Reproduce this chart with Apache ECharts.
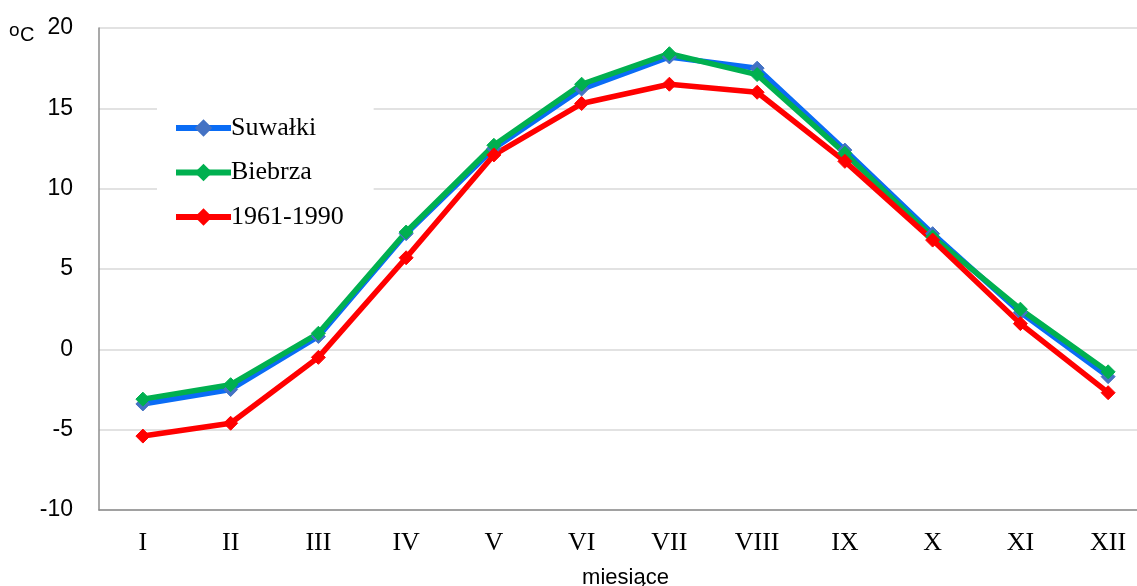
<!DOCTYPE html>
<html><head><meta charset="utf-8">
<script src="https://cdn.jsdelivr.net/npm/echarts@6/dist/echarts.min.js"></script>
<style>html,body{margin:0;padding:0;background:#fff}#c{width:1137px;height:586px}</style>
</head><body><div id="c"></div>
<script>
const months = ['I','II','III','IV','V','VI','VII','VIII','IX','X','XI','XII'];
const suwalki = [-3.4,-2.5,0.8,7.2,12.5,16.2,18.2,17.5,12.4,7.2,2.3,-1.7];
const biebrza = [-3.1,-2.2,1.0,7.3,12.7,16.5,18.4,17.1,12.2,7.0,2.5,-1.4];
const normal = [-5.4,-4.6,-0.5,5.7,12.1,15.3,16.5,16.0,11.7,6.8,1.6,-2.7];
const yTicks = {min:-10, max:20, interval:5};
const seriesNames = ['Suwałki','Biebrza','1961-1990'];

const chart = echarts.init(document.getElementById('c'), null, {renderer:'canvas'});
function s(name, data, color, markerColor){
  return {name, type:'line', data, symbol:'diamond', symbolSize:14,
    lineStyle:{color, width:5.5}, itemStyle:{color:markerColor, borderColor:markerColor},
    emphasis:{disabled:true}, animation:false};
}
chart.setOption({
  animation:false,
  grid:{left:99, top:28, width:1053, height:482, containLabel:false, outerBoundsMode:'none'},
  xAxis:{type:'category', data:months, boundaryGap:true,
    axisLine:{onZero:false, lineStyle:{color:'#8c8c8c', width:1.5}},
    axisTick:{show:false},
    axisLabel:{fontFamily:'Liberation Serif', fontSize:26, color:'#000', margin:20},
    name:'miesiące', nameLocation:'middle', nameGap:57,
    nameTextStyle:{fontFamily:'Liberation Sans', fontSize:22, color:'#000'}
  },
  yAxis:{type:'value', min:yTicks.min, max:yTicks.max, interval:yTicks.interval,
    axisLine:{show:true, lineStyle:{color:'#8c8c8c', width:1.5}},
    axisTick:{show:false},
    splitLine:{lineStyle:{color:'#d9d9d9', width:1.5}},
    axisLabel:{fontFamily:'Liberation Sans', fontSize:23, color:'#000', margin:26}
  },
  graphic:[
    {type:'text', left:9, top:21, style:{text:'o', fontSize:19, fontFamily:'Liberation Sans', fill:'#000'}},
    {type:'text', left:20, top:25, style:{text:'C', fontSize:20, fontFamily:'Liberation Sans', fill:'#000'}}
  ],
  legend:{orient:'vertical', left:157, top:101, itemWidth:55, itemHeight:22, itemGap:18.5,
    backgroundColor:'#fff', padding:[14,30,14,16],
    lineStyle:{width:6},
    textStyle:{fontFamily:'Liberation Serif', fontSize:26, color:'#000', padding:[0,0,0,-5]},
    data:seriesNames},
  series:[
    s(seriesNames[0], suwalki, '#0a6cf5', '#4472c4'),
    s(seriesNames[1], biebrza, '#00b050', '#00b050'),
    s(seriesNames[2], normal, '#ff0000', '#ff0000')
  ]
});
</script></body></html>
